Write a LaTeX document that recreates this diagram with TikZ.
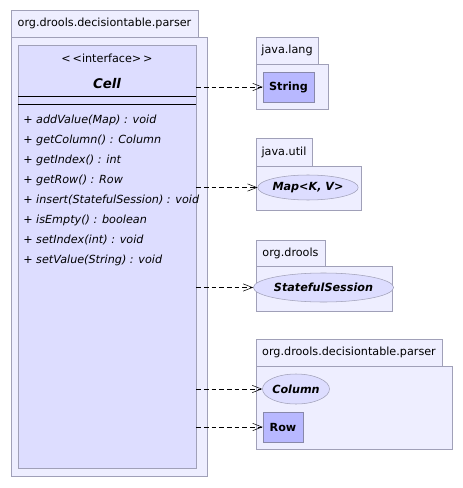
\documentclass[tikz,border=0pt]{standalone}
\usepackage{fontspec}
\setmainfont{DejaVu Sans}
\usetikzlibrary{arrows.meta,fit,shapes.geometric}
\definecolor{pkgfill}{HTML}{EEEEFF}
\definecolor{clsfill}{HTML}{DDDDFF}
\definecolor{typefill}{HTML}{B8B8FF}
\definecolor{pkgline}{HTML}{A0A0B8}
\definecolor{typeline}{HTML}{8888AA}

\begin{document}
\begin{tikzpicture}[x=0.75pt,y=-0.75pt,font=\fontsize{8.4}{10}\selectfont,
  pkg/.style={draw=pkgline,fill=pkgfill,inner sep=0pt},
  cls/.style={draw=pkgline,fill=clsfill,inner sep=0pt},
  type/.style={draw=typeline,fill=typefill,inner sep=0pt},
  bold/.style={font=\fontsize{8.4}{10}\selectfont\bfseries},
  iface/.style={ellipse,draw=pkgline,fill=clsfill,inner sep=0pt,font=\fontsize{8.4}{10}\selectfont\bfseries\itshape},
  meth/.style={anchor=west,inner sep=0pt,font=\fontsize{8.4}{10}\selectfont\itshape},
  dep/.style={-{Straight Barb[length=7pt,width=5.5pt]},dash pattern=on 3.5pt off 2.25pt,thin}]

  \useasboundingbox (0,0) rectangle (463,488);

  % package of the interface
  \node[pkg, fit={(11,37)(207,476)}] (main) {};
  \node[pkg, fit={(11,10)(198,37)}] (maintab) {};
  \node at (maintab) {org.drools.decisiontable.parser};
  \node[cls, fit={(18,45)(196,468)}] (cell) {};
  \node (stereo) at (107,58) {{<}\,{<}interface{>}\,{>}};
  \node[font=\fontsize{10}{12}\selectfont\bfseries\itshape] (name) at (107,84) {Cell};
  \draw (18,96) -- (196,96) (18,104) -- (196,104);
  \foreach \m [count=\i] in {{+ addValue(Map) : void}, {+ getColumn() : Column},
      {+ getIndex() : int}, {+ getRow() : Row}, {+ insert(StatefulSession) : void},
      {+ isEmpty() : boolean}, {+ setIndex(int) : void}, {+ setValue(String) : void}}
    \node[meth] (m\i) at (23,100+20*\i) {\m};

  % used packages
  \node[pkg, fit={(256,64)(328,109)}] (lang) {};
  \node[pkg, fit={(256,37)(318,64)}] (langtab) {};
  \node at (langtab) {java.lang};
  \node[type, fit={(263,72)(314,102)}] (string) {};
  \node[bold] at (string) {String};

  \node[pkg, fit={(256,166)(361,210)}] (util) {};
  \node[pkg, fit={(256,138)(312,166)}] (utiltab) {};
  \node at (utiltab) {java.util};
  \node[iface, minimum width=67.5pt, minimum height=18.75pt] (map) at (308,187.5) {Map{<}K, V{>}};

  \node[pkg, fit={(256,266)(392,311)}] (drools) {};
  \node[pkg, fit={(256,240)(325,266)}] (droolstab) {};
  \node at (droolstab) {org.drools};
  \node[iface, minimum width=90.75pt, minimum height=21.75pt] (session) at (323.5,287.5) {StatefulSession};

  \node[pkg, fit={(256,366)(452,449)}] (parser) {};
  \node[pkg, fit={(256,339)(442,366)}] (parsertab) {};
  \node at (parsertab) {org.drools.decisiontable.parser};
  \node[iface, minimum width=49.5pt, minimum height=22.5pt] (column) at (296,389) {Column};
  \node[type, fit={(263,412)(303,442)}] (row) {};
  \node[bold] at (row) {Row};

  \path[dep]
    (cell.east |- string) edge (string)
    (cell.east |- map) edge (map)
    (cell.east |- session) edge (session)
    (cell.east |- column) edge (column)
    (cell.east |- row) edge (row);

\end{tikzpicture}
\end{document}
